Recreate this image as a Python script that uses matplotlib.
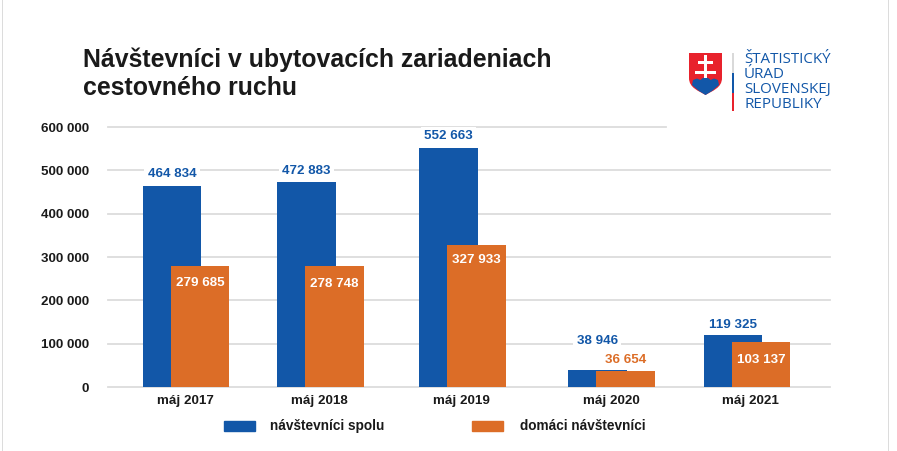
import matplotlib
matplotlib.use("Agg")
import matplotlib.pyplot as plt
from matplotlib.patches import PathPatch, Rectangle
from matplotlib.path import Path

W, H = 897, 451

categories = ["máj 2017", "máj 2018", "máj 2019", "máj 2020", "máj 2021"]
total_visitors = [464834, 472883, 552663, 38946, 119325]
domestic_visitors = [279685, 278748, 327933, 36654, 103137]
y_ticks = [0, 100000, 200000, 300000, 400000, 500000, 600000]
series_names = ["návštevníci spolu", "domáci návštevníci"]
logo_lines = ["ŠTATISTICKÝ", "ÚRAD", "SLOVENSKEJ", "REPUBLIKY"]

# groups are not evenly spaced in the original, left edge of the blue bar in px
group_left = [142.7, 277.3, 419.3, 568, 703.7]
label_x = [185.5, 319, 461, 611, 750]
# how far labels sit from the bar top in px, negative means inside the bar
total_lift = [13, 13, 13, 31, 12]
domestic_lift = [-16, -16, -14, 12.5, -16]
BAR_W = 58.5
BAR_SHIFT = 28

BLUE = "#1257a8"
ORANGE = "#dc6d27"
RED = "#e8222c"
GRID = "#dcdcdc"
TEXT = "#1a1a1a"


def fmt(v):
    return f"{v:,}".replace(",", " ")


def px(x, y):
    return x / W, 1 - y / H


plt.rcParams["font.family"] = "Liberation Sans"
fig = plt.figure(figsize=(W / 100, H / 100), dpi=100)

# axes spans the whole picture, x is in px, y is in data units
y0_px, y600_px = 387, 127
unit = (y0_px - y600_px) / 600000
ax = fig.add_axes([0, 0, 1, 1])
ax.set_xlim(0, W)
ax.set_ylim(-(H - y0_px) / unit, y0_px / unit)
ax.axis("off")

for t in y_ticks:
    ax.plot([108, 666 if t == 600000 else 830], [t, t], color=GRID, lw=1.3, zorder=1)
    ax.text(89, t, fmt(t), ha="right", va="center_baseline", fontsize=9.6, fontweight="bold", color=TEXT)

for i, cat in enumerate(categories):
    left = group_left[i]
    ax.bar(left, total_visitors[i], BAR_W, align="edge", color=BLUE, zorder=2)
    ax.bar(left + BAR_SHIFT, domestic_visitors[i], BAR_W, align="edge", color=ORANGE, zorder=3)
    ax.text(label_x[i], -17 / unit, cat, ha="center", va="baseline", fontsize=9.6, fontweight="bold", color=TEXT)

    # blue labels sit over the bar, white box cuts the grid
    ax.text(left + BAR_W / 2, total_visitors[i] + total_lift[i] / unit, fmt(total_visitors[i]),
            ha="center", va="center_baseline", fontsize=9.6, fontweight="bold", color=BLUE, zorder=4,
            bbox=dict(facecolor="white", edgecolor="none", pad=2.5))
    col = ORANGE if domestic_lift[i] > 0 else "white"
    ax.text(left + BAR_SHIFT + BAR_W / 2, domestic_visitors[i] + domestic_lift[i] / unit, fmt(domestic_visitors[i]),
            ha="center", va="center_baseline", fontsize=9.6, fontweight="bold", color=col, zorder=4)

fig.text(*px(83, 67), "Návštevníci v ubytovacích zariadeniach", fontsize=17.9, fontweight="bold", color=TEXT)
fig.text(*px(83, 95), "cestovného ruchu", fontsize=17.9, fontweight="bold", color=TEXT)

# legend
for x, name, col, tx in zip([223.5, 472], series_names, [BLUE, ORANGE], [270, 520]):
    fig.add_artist(Rectangle(px(x, 431), 31 / W, 10 / H, transform=fig.transFigure, color=col))
    fig.text(*px(tx, 430), name, fontsize=9.8, fontweight="bold", color=TEXT)

# frame lines at the sides of the original
for x in [2, 888]:
    fig.add_artist(Rectangle((x / W, 0), 1 / W, 1, transform=fig.transFigure, color="#dcdcdc", lw=0))

# logo, drawn in pixel coords
shield = [(689, 53), (722, 53), (722, 78), (722, 88), (712, 91), (705.5, 95), (699, 91), (689, 88), (689, 78), (689, 53)]
shield_codes = [Path.MOVETO, Path.LINETO, Path.LINETO, Path.CURVE4, Path.CURVE4, Path.CURVE4,
                Path.CURVE4, Path.CURVE4, Path.CURVE4, Path.LINETO]
fig.add_artist(PathPatch(Path([px(*p) for p in shield], shield_codes), transform=fig.transFigure,
                         facecolor=RED, edgecolor="none"))
hills = [(692, 85), (693, 80), (697, 78.5), (700.5, 80), (702, 78.5), (705.5, 77), (709, 78.5), (710.5, 80),
         (714, 78.5), (718, 80), (719, 85), (712, 91), (705.5, 95), (699, 91)]
fig.add_artist(plt.Polygon([px(*p) for p in hills], closed=True, transform=fig.transFigure,
                           facecolor=BLUE, edgecolor="none"))
for r in [(703.9, 55, 3.2, 23), (698, 60.5, 15, 3), (695, 70.5, 21, 3.2)]:
    fig.add_artist(Rectangle(px(r[0], r[1] + r[3]), r[2] / W, r[3] / H, transform=fig.transFigure, color="white", lw=0))

for y0, y1, col in [(53, 73, "#d9d9d9"), (73, 93, BLUE), (93, 111, RED)]:
    fig.add_artist(Rectangle(px(732, y1), 2 / W, (y1 - y0) / H, transform=fig.transFigure, color=col, lw=0))
for line, y in zip(logo_lines, [63, 78, 93, 108]):
    fig.text(*px(744, y), line, fontsize=10.9, color=BLUE, family="Open Sans")

fig.savefig("out.png", dpi=100, facecolor="white")
